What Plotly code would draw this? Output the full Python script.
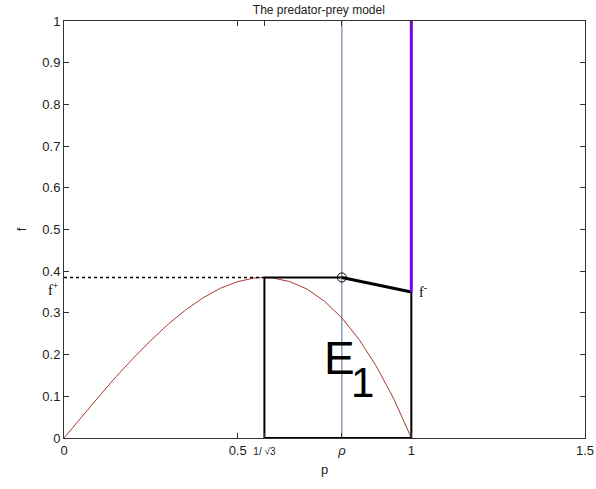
import plotly.graph_objects as go

# Prey-predator nullcline f(p), sampled along p
p_curve = [0.0, 0.05, 0.1, 0.15, 0.2, 0.25, 0.3, 0.35, 0.4, 0.45, 0.5, 0.55, 0.577,
           0.6, 0.65, 0.7, 0.75, 0.8, 0.85, 0.9, 0.95, 1.0]
f_curve = [0.0, 0.050, 0.099, 0.147, 0.192, 0.234, 0.273, 0.307, 0.336, 0.359, 0.375,
           0.384, 0.385, 0.384, 0.375, 0.357, 0.328, 0.288, 0.236, 0.171, 0.093, 0.0]

# Key points
p_star = 0.577      # 1/sqrt(3)
rho = 0.8
f_plus = 0.385
f_minus = 0.35

# Axis ticks
x_tickvals = [0, 0.5, p_star, rho, 1, 1.5]
x_ticktext = ["0", "0.5", "<span style='font-size:10px'>1/ √3</span>", "<i>ρ</i>", "1", "1.5"]
y_tickvals = [0, 0.1, 0.2, 0.3, 0.4, 0.5, 0.6, 0.7, 0.8, 0.9, 1]
y_ticktext = ["0", "0.1", "0.2", "0.3", "0.4", "0.5", "0.6", "0.7", "0.8", "0.9", "1"]

fig = go.Figure()

# vertical line at rho
fig.add_trace(go.Scatter(x=[rho, rho], y=[0, 1], mode="lines",
                         line=dict(color="#4f6f9f", width=1), showlegend=False))

# nullcline
fig.add_trace(go.Scatter(x=p_curve, y=f_curve, mode="lines",
                         line=dict(color="#a83a32", width=1), showlegend=False))

# dotted level f+
fig.add_trace(go.Scatter(x=[0, p_star], y=[f_plus, f_plus], mode="lines",
                         line=dict(color="black", width=1.5, dash="dot"), showlegend=False))

# region E1 box
fig.add_trace(go.Scatter(x=[rho, p_star, p_star, 1, 1],
                         y=[f_plus, f_plus, 0, 0, f_minus], mode="lines",
                         line=dict(color="black", width=2), showlegend=False))

# segment from (rho, f+) to (1, f-)
fig.add_trace(go.Scatter(x=[rho, 1], y=[f_plus, f_minus], mode="lines",
                         line=dict(color="black", width=3), showlegend=False))

# purple line at p = 1
fig.add_trace(go.Scatter(x=[1, 1], y=[f_minus, 1], mode="lines",
                         line=dict(color="#7a00f0", width=3), showlegend=False))

# equilibrium marker
fig.add_trace(go.Scatter(x=[rho], y=[f_plus], mode="markers",
                         marker=dict(symbol="circle-open", size=9, color="black",
                                     line=dict(color="black", width=1)),
                         showlegend=False))

serif = "Liberation Serif, Times New Roman, serif"
sans = "Liberation Sans, Arial, sans-serif"

fig.add_annotation(x=0.793, y=0.191, text="E", showarrow=False,
                   font=dict(family=sans, size=46, color="black"))
fig.add_annotation(x=0.859, y=0.132, text="1", showarrow=False,
                   font=dict(family=sans, size=42, color="black"))
fig.add_annotation(xref="paper", yref="paper", x=-0.035, y=0.357, text="f<sup>+</sup>",
                   showarrow=False, font=dict(family=serif, size=14, color="black"))
fig.add_annotation(x=1.035, y=0.352, text="f<sup>-</sup>", showarrow=False,
                   font=dict(family=serif, size=14, color="black"))

axis_common = dict(
    showline=True, linecolor="#333333", linewidth=1, mirror="ticks",
    ticks="inside", ticklen=5, tickcolor="#333333", showgrid=False,
    zeroline=False, automargin=False,
    tickfont=dict(family=sans, size=13, color="#222222"),
)

fig.update_layout(
    width=596, height=489,
    margin=dict(l=64, r=11, t=21, b=51),
    paper_bgcolor="white", plot_bgcolor="white",
    title=dict(text="The predator-prey model", x=0.535, xanchor="center",
               y=0.979, yanchor="middle",
               font=dict(family=sans, size=12, color="#222222")),
    xaxis=dict(range=[0, 1.5], tickvals=x_tickvals, ticktext=x_ticktext,
               title=dict(text="p", standoff=8, font=dict(family=sans, size=13, color="#222222")),
               **axis_common),
    yaxis=dict(range=[0, 1], tickvals=y_tickvals, ticktext=y_ticktext,
               title=dict(text="f", standoff=12, font=dict(family=sans, size=13, color="#222222")),
               **axis_common),
)

fig.write_html("out.html")
